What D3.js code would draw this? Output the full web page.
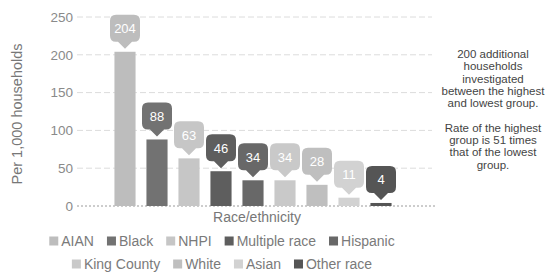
<!DOCTYPE html>
<html>
<head>
<meta charset="utf-8">
<script src="https://cdn.jsdelivr.net/npm/d3@7"></script>
<style>
  body { margin: 0; background: #fff; }
  svg { font-family: "Liberation Sans", Arial, sans-serif; }
</style>
</head>
<body>
<svg id="chart"></svg>
<script>
// Chart size
const width = 547;
const height = 273;

// Data
const groups = ["AIAN", "Black", "NHPI", "Multiple race", "Hispanic", "King County", "White", "Asian", "Other race"];
const rates = [204, 88, 63, 46, 34, 34, 28, 11, 4];
const barColors = ["#bdbdbd", "#727272", "#c6c6c6", "#5e5e5e", "#686868", "#c9c9c9", "#bfbfbf", "#d2d2d2", "#555555"];
const yTicks = [0, 50, 100, 150, 200, 250];
const legendRows = [
    ["AIAN", "Black", "NHPI", "Multiple race", "Hispanic"],
    ["King County", "White", "Asian", "Other race"]
];
const noteLines = [
    "200 additional", "households", "investigated", "between the highest", "and lowest group.",
    "",
    "Rate of the highest", "group is 51 times", "that of the lowest", "group."
];

const svg = d3.select("#chart")
    .attr("width", width)
    .attr("height", height);

// Scales
const x = d3.scaleBand()
    .domain(groups)
    .range([109, 397])
    .paddingInner(0.34)
    .paddingOuter(0.17);

const y = d3.scaleLinear()
    .domain([0, 250])
    .range([206, 17]);

const color = d3.scaleOrdinal().domain(groups).range(barColors);

// Grid lines
svg.selectAll(".grid")
    .data(yTicks.filter(d => d > 0))
    .enter()
    .append("line")
    .attr("class", "grid")
    .attr("x1", 77)
    .attr("x2", 432)
    .attr("y1", d => y(d))
    .attr("y2", d => y(d))
    .style("stroke", "#dcdcdc")
    .style("stroke-width", 1)
    .style("stroke-dasharray", "6,3");

// Baseline
svg.append("line")
    .attr("x1", 77)
    .attr("x2", 436)
    .attr("y1", y(0))
    .attr("y2", y(0))
    .style("stroke", "#9a9a9a")
    .style("stroke-width", 1)
    .style("stroke-dasharray", "2,2");

// Y axis (labels only)
const yAxis = svg.append("g")
    .attr("transform", "translate(73,0)")
    .call(d3.axisLeft(y).tickValues(yTicks).tickSize(0).tickPadding(0));
yAxis.select(".domain").remove();
yAxis.selectAll("text")
    .style("font-family", "'Liberation Sans', Arial, sans-serif")
    .style("font-size", "13.5px")
    .style("fill", "#8a8a8a");

// Y title
svg.append("text")
    .attr("transform", "translate(22,114) rotate(-90)")
    .attr("text-anchor", "middle")
    .style("font-size", "14.5px")
    .style("fill", "#777")
    .text("Per 1,000 households");

// X title
svg.append("text")
    .attr("x", 257)
    .attr("y", 222)
    .attr("text-anchor", "middle")
    .style("font-size", "14px")
    .style("fill", "#777")
    .text("Race/ethnicity");

// Bars
const data = groups.map((g, i) => ({ group: g, value: rates[i] }));

svg.selectAll(".bar")
    .data(data)
    .enter()
    .append("rect")
    .attr("class", "bar")
    .attr("x", d => x(d.group))
    .attr("y", d => y(d.value))
    .attr("width", x.bandwidth())
    .attr("height", d => y(0) - y(d.value))
    .style("fill", d => color(d.group));

// Value badges (rounded box with pointer)
const bw = 30, bh = 27, ph = 7, gap = 3;
function badgePath(cx, tipY) {
    const top = tipY - ph - bh;
    const left = cx - bw / 2, right = cx + bw / 2, bottom = tipY - ph;
    const r = 6;
    return `M${left + r},${top} L${right - r},${top} Q${right},${top} ${right},${top + r}` +
        ` L${right},${bottom - r} Q${right},${bottom} ${right - r},${bottom}` +
        ` L${cx + 7},${bottom} L${cx},${tipY} L${cx - 7},${bottom}` +
        ` L${left + r},${bottom} Q${left},${bottom} ${left},${bottom - r}` +
        ` L${left},${top + r} Q${left},${top} ${left + r},${top} Z`;
}

const badges = svg.selectAll(".badge")
    .data(data)
    .enter()
    .append("g")
    .attr("class", "badge");

badges.append("path")
    .attr("d", d => badgePath(x(d.group) + x.bandwidth() / 2, y(d.value) - gap))
    .style("fill", d => color(d.group));

badges.append("text")
    .attr("x", d => x(d.group) + x.bandwidth() / 2)
    .attr("y", d => y(d.value) - gap - ph - bh / 2 + 5)
    .attr("text-anchor", "middle")
    .style("font-size", "13px")
    .style("fill", "#fff")
    .text(d => d.value);

// Legend
const legendY = [241, 264];
const sw = 9, swGap = 3, itemGap = 13, legendCenter = 222, legendFont = "14px";
const measure = svg.append("text").style("font-size", legendFont);
function textWidth(s) {
    measure.text(s);
    return measure.node().getComputedTextLength();
}

legendRows.forEach((row, ri) => {
    const widths = row.map(s => sw + swGap + textWidth(s));
    const total = d3.sum(widths) + itemGap * (row.length - 1);
    let cursor = legendCenter - total / 2;
    row.forEach((name, i) => {
        const g = svg.append("g").attr("transform", `translate(${cursor},${legendY[ri]})`);
        g.append("rect")
            .attr("x", 0)
            .attr("y", -sw / 2)
            .attr("width", sw)
            .attr("height", sw)
            .style("fill", color(name));
        g.append("text")
            .attr("x", sw + swGap)
            .attr("y", 5)
            .style("font-size", legendFont)
            .style("fill", "#7a7a7a")
            .text(name);
        cursor += widths[i] + itemGap;
    });
});
measure.remove();

// Side note
svg.append("text")
    .attr("text-anchor", "middle")
    .style("font-size", "11.5px")
    .style("fill", "#444")
    .selectAll("tspan")
    .data(noteLines)
    .enter()
    .append("tspan")
    .attr("x", 493)
    .attr("y", (d, i) => 58 + i * 12.3)
    .text(d => d);
</script>
</body>
</html>
